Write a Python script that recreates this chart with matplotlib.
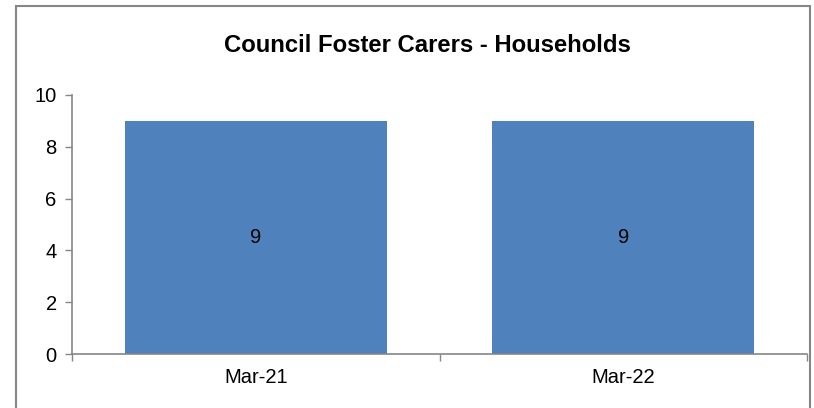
import matplotlib.pyplot as plt
from matplotlib.patches import Rectangle

categories = ['Mar-21', 'Mar-22']
households = [9, 9]

plt.rcParams['font.family'] = ['Liberation Sans', 'DejaVu Sans']

fig = plt.figure(figsize=(8.14, 4.08), dpi=100)
ax = fig.add_axes([72 / 814, 1 - 354 / 408, (807 - 72) / 814, (354 - 95) / 408])

# chart frame (runs off the bottom like the original)
fig.patches.append(Rectangle((16 / 814, -0.05), (810 - 16) / 814, 1.05 - 6 / 408,
                             transform=fig.transFigure, fill=False,
                             edgecolor='#868686', linewidth=1.5))

x = range(len(categories))
bars = ax.bar(x, households, width=0.713, color='#4F81BD')
for b, v in zip(bars, households):
    ax.text(b.get_x() + b.get_width() / 2, v / 2, str(v), ha='center', va='center',
            fontsize=14.5, color='black')

ax.set_xlim(-0.5, len(categories) - 0.5)
ax.set_ylim(0, 10)
ax.set_yticks([0, 2, 4, 6, 8, 10])
ax.set_xticks(list(x))
ax.set_xticklabels(categories)
ax.set_xticks([i - 0.5 for i in range(len(categories) + 1)], minor=True)
ax.tick_params(axis='x', which='major', length=0, labelsize=14.5, pad=10)
ax.tick_params(axis='x', which='minor', length=5, width=1, color='#868686', direction='out')
ax.tick_params(axis='y', length=5, width=1, color='#868686', labelsize=14.5, pad=6)

for s in ['top', 'right']:
    ax.spines[s].set_visible(False)
for s in ['left', 'bottom']:
    ax.spines[s].set_color('#868686')
    ax.spines[s].set_linewidth(1.2)

fig.text((72 + 807) / 2 / 814 - 0.015, 1 - 46 / 408, 'Council Foster Carers - Households',
         ha='center', va='center', fontsize=17.2, fontweight='bold')

fig.savefig('out.png', dpi=100)
